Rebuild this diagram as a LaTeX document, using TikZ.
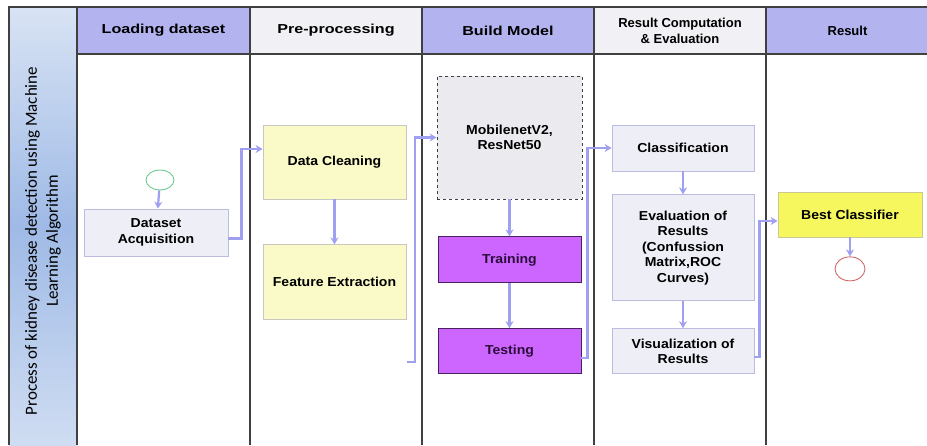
\documentclass[tikz,border=0pt]{standalone}
\usepackage{fontspec}
\setmainfont{Liberation Sans}
\newfontfamily\widesans{Liberation Sans}[FakeStretch=1.24]
\newfontfamily\boxsans{Liberation Sans}[FakeStretch=1.08]
\newfontfamily\calibrisans{Carlito}
\usepackage{tikz}
\usetikzlibrary{positioning, arrows.meta, shapes.geometric}

\definecolor{lanehead}{HTML}{B3B3EF}
\definecolor{laneplain}{HTML}{F0F0F5}
\definecolor{laneline}{HTML}{404040}
\definecolor{paneltop}{HTML}{D8E3F4}
\definecolor{panelmid}{HTML}{9FBAE6}
\definecolor{stepfill}{HTML}{EEEEF7}
\definecolor{stepedge}{HTML}{BCBCE0}
\definecolor{prepfill}{HTML}{FAFAC9}
\definecolor{prepedge}{HTML}{C8C8C0}
\definecolor{modelfill}{HTML}{EBEBEF}
\definecolor{trainfill}{HTML}{CC66FF}
\definecolor{trainedge}{HTML}{4A2060}
\definecolor{traintext}{HTML}{2B0D3A}
\definecolor{bestfill}{HTML}{F6F65E}
\definecolor{bestedge}{HTML}{C8C890}
\definecolor{flowline}{HTML}{A0A0F0}
\definecolor{startgreen}{HTML}{70C890}
\definecolor{stopred}{HTML}{D06868}

\begin{document}
\begin{tikzpicture}[x=1pt, y=-1pt]

		\tikzstyle{lanetitle} = [rectangle, fill=lanehead, outer sep=0pt, minimum height=47pt, align=center, font=\widesans\bfseries\fontsize{13}{16}\selectfont]
		\tikzstyle{laneline} = [draw=laneline, line width=1.8pt]
		\tikzstyle{process} = [rectangle, draw=stepedge, fill=stepfill, line width=0.8pt, minimum width=142pt, align=center, font=\boxsans\bfseries\fontsize{13}{15.5}\selectfont]
		\tikzstyle{prep} = [process, draw=prepedge, fill=prepfill, minimum width=143pt]
		\tikzstyle{model} = [process, draw=trainedge, fill=trainfill, text=traintext, minimum width=143pt, minimum height=46pt]
		\tikzstyle{flow} = [draw=flowline, line width=2.2pt, -{Stealth[length=7pt, width=8pt]}]
		
		\useasboundingbox (0,0) rectangle (927,445);
		
		% Side panel
		\shade[top color=paneltop, bottom color=paneltop!85!panelmid, middle color=panelmid] (9,7) rectangle (77,445);
		\node[rotate=90, align=center, font=\calibrisans\fontsize{17}{21}\selectfont] (procname) at (43,241) {Process of kidney disease detection using Machine\\Learning Algorithm};
		
		% Lane titles
		\node[lanetitle, minimum width=173pt] (hload) at (163.5,30.5) {Loading dataset};
		\node[lanetitle, fill=laneplain, minimum width=172pt, right=0pt of hload] (hprep) {Pre-processing};
		\node[lanetitle, minimum width=172pt, right=0pt of hprep] (hbuild) {Build Model};
		\node[lanetitle, fill=laneplain, minimum width=172pt, right=0pt of hbuild, font=\bfseries\fontsize{13}{16}\selectfont] (heval) {Result Computation\\ \& Evaluation};
		\node[lanetitle, minimum width=163pt, right=0pt of heval, font=\bfseries\fontsize{13}{16}\selectfont] (hresult) {Result};
		
		% Lane borders
		\draw[laneline] (9,445) -- (9,7) -- (930,7);
		\draw[laneline] (77,54) -- (930,54);
		\foreach \x in {77,250,422,594,766}
			\draw[laneline] (\x,7) -- (\x,445);
		
		% Define nodes
		\node[ellipse, draw=startgreen, line width=0.9pt, minimum width=28pt, minimum height=20pt] (start) at (160,180) {};
		\node[process, minimum width=144pt, minimum height=47pt] (acquire) at (156,232.5) {Dataset\\Acquisition};
		
		\node[prep, minimum height=74pt] (clean) at (334.5,162) {Data Cleaning};
		\node[prep, minimum height=75pt, below=45pt of clean] (feature) {Feature Extraction};
		
		\node[process, draw=laneline, dashed, fill=modelfill, minimum width=145pt, minimum height=123pt] (nets) at (509.5,137.5) {MobilenetV2,\\ResNet50};
		\node[model, below=37pt of nets] (train) {Training};
		\node[model, minimum height=45pt, below=45pt of train] (test) {Testing};
		
		\node[process, minimum height=46pt] (classify) at (683,148) {Classification};
		\node[process, minimum height=106pt, below=23pt of classify] (evalres) {Evaluation of\\Results\\(Confussion\\Matrix,ROC\\Curves)};
		\node[process, minimum height=45pt, below=27pt of evalres] (visual) {Visualization of\\Results};
		
		\node[process, draw=bestedge, fill=bestfill, minimum width=144pt, minimum height=45pt] (best) at (850,214.5) {Best Classifier};
		\node[ellipse, draw=stopred, line width=0.9pt, minimum width=30pt, minimum height=24pt, below=19pt of best] (stop) {};
		
		\coordinate (featout) at (407,362);
		
		% Draw arrows
		\draw[flow] (start) -- (acquire);
		\draw[flow] ([yshift=-6pt]acquire.east) -- ++(13,0) |- ([yshift=13pt]clean.west);
		\draw[flow] (clean) -- (feature);
		\draw[flow] (featout) -- ++(8,0) |- (nets.west);
		\draw[flow] (nets) -- (train);
		\draw[flow] (train) -- (test);
		\draw[flow] ([yshift=-6.5pt]test.east) -- ++(6,0) |- (classify.west);
		\draw[flow] (classify) -- (evalres);
		\draw[flow] (evalres) -- (visual);
		\draw[flow] ([yshift=-5.5pt]visual.east) -- ++(5,0) |- ([yshift=-6.5pt]best.west);
		\draw[flow] (best) -- (stop);
		
	\end{tikzpicture}
\end{document}
